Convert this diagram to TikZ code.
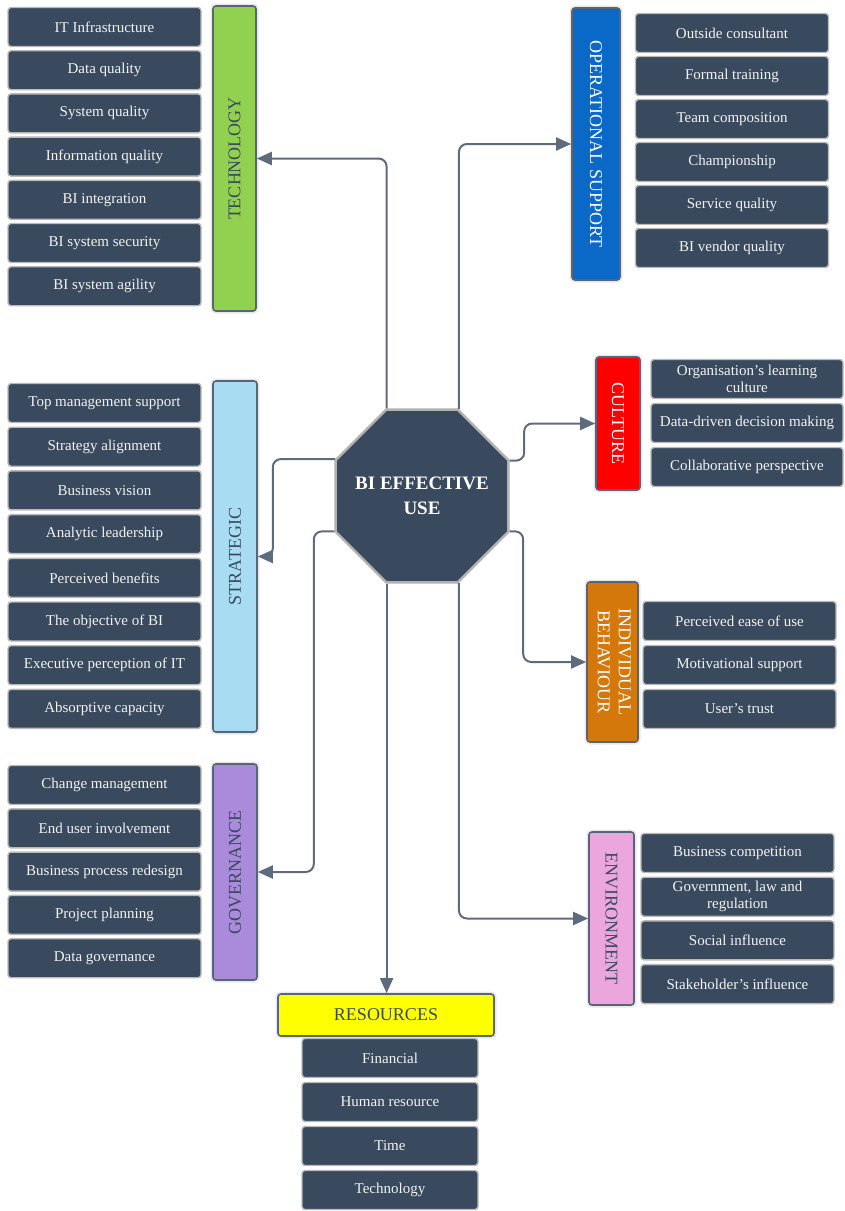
\documentclass[tikz,border=0pt]{standalone}
\usepackage{fontspec}
\setmainfont{Liberation Serif}
\usetikzlibrary{shapes.geometric,arrows.meta}
\definecolor{slatebox}{HTML}{3A4A5E}
\definecolor{linkgray}{HTML}{5E6B7C}
\definecolor{techgreen}{HTML}{92D050}
\definecolor{stratblue}{HTML}{A8DCF2}
\definecolor{govpurple}{HTML}{A98ADB}
\definecolor{operblue}{HTML}{0A68C6}
\definecolor{cultred}{HTML}{FF0000}
\definecolor{indivorange}{HTML}{D4780B}
\definecolor{envpink}{HTML}{ECA6DE}
\definecolor{resyellow}{HTML}{FFFF00}
\tikzset{
  item/.style={fill=slatebox, draw=gray!55, line width=1.4pt, rounded corners=3pt,
    minimum width=193pt, minimum height=39pt, inner sep=1pt, align=center,
    text=white!95!black, font=\fontsize{15}{17}\selectfont},
  bar/.style={draw=slatebox!85, line width=1.6pt, rounded corners=3pt, inner sep=0pt,
    text=slatebox, font=\fontsize{18}{21}\selectfont,
    preaction={draw=gray!18, line width=5pt}},
  link/.style={draw=linkgray, line width=2pt, rounded corners=8pt,
    -{Triangle[length=15pt,width=13pt]}},
}
\begin{document}
\begin{tikzpicture}[x=1pt, y=-1pt]
  \useasboundingbox (0,0) rectangle (844,1211);

  % centre
  \node[regular polygon, regular polygon sides=8, minimum size=187pt, inner sep=0pt,
    fill=slatebox, draw=gray!60, line width=2.5pt,
    label={[text=white, align=center, font=\fontsize{19}{25}\selectfont\bfseries]center:BI EFFECTIVE\\USE}] (oct) at (422,496) {};

  % factor bars
  \node[bar, fill=techgreen, minimum width=43pt, minimum height=305pt] (tech) at (234.5,158.5) {\rotatebox{90}{TECHNOLOGY}};
  \node[bar, fill=stratblue, minimum width=44pt, minimum height=351pt] (strat) at (235,556.5) {\rotatebox{90}{STRATEGIC}};
  \node[bar, fill=govpurple, minimum width=44pt, minimum height=216pt] (gov) at (235,872) {\rotatebox{90}{GOVERNANCE}};
  \node[bar, fill=operblue, text=white, minimum width=48pt, minimum height=272pt] (oper) at (596,144) {\rotatebox{-90}{OPERATIONAL SUPPORT}};
  \node[bar, fill=cultred, text=white, minimum width=44pt, minimum height=133pt] (cult) at (618,423.5) {\rotatebox{-90}{CULTURE}};
  \node[bar, fill=indivorange, text=white, minimum width=51pt, minimum height=160pt] (indiv) at (612.5,662) {\rotatebox{-90}{\begin{tabular}{@{}c@{}}INDIVIDUAL\\BEHAVIOUR\end{tabular}}};
  \node[bar, fill=envpink, minimum width=45pt, minimum height=173pt] (env) at (611.5,918.5) {\rotatebox{-90}{ENVIRONMENT}};
  \node[bar, fill=resyellow, minimum width=216pt, minimum height=42pt] (res) at (386,1015) {RESOURCES};

  % items
  \foreach \txt [count=\i from 0] in {IT Infrastructure, Data quality, System quality,
      Information quality, BI integration, BI system security, BI system agility}
    \node[item] (tech\i) at (104.5,{27+43.2*\i}) {\txt};
  \foreach \txt [count=\i from 0] in {Top management support, Strategy alignment,
      Business vision, Analytic leadership, Perceived benefits, The objective of BI,
      Executive perception of IT, Absorptive capacity}
    \node[item] (strat\i) at (104.5,{403+43.7*\i}) {\txt};
  \foreach \txt [count=\i from 0] in {Change management, End user involvement,
      Business process redesign, Project planning, Data governance}
    \node[item] (gov\i) at (104.5,{785+43.3*\i}) {\txt};
  \foreach \txt [count=\i from 0] in {Outside consultant, Formal training,
      Team composition, Championship, Service quality, BI vendor quality}
    \node[item] (oper\i) at (732,{33+43*\i}) {\txt};
  \foreach \txt [count=\i from 0] in {Organisation’s learning\\culture,
      Data-driven decision making, Collaborative perspective}
    \node[item, minimum width=192pt] (cult\i) at (747,{379+44*\i}) {\txt};
  \foreach \txt [count=\i from 0] in {Perceived ease of use, Motivational support, User’s trust}
    \node[item] (indiv\i) at (739.5,{621+44*\i}) {\txt};
  \foreach \txt [count=\i from 0] in {Business competition, {Government, law and\\regulation},
      Social influence, Stakeholder’s influence}
    \node[item] (env\i) at (737.5,{853+43.7*\i}) {\txt};
  \foreach \txt [count=\i from 0] in {Financial, Human resource, Time, Technology}
    \node[item, minimum width=176pt] (res\i) at (390,{1058+44*\i}) {\txt};

  % links
  \draw[link] (oct.112.5) |- (tech.east);
  \draw[link] (oct.67.5) |- (oper.west);
  \draw[link] (oct.157.5) -| ([xshift=15pt]strat.east) -- (strat.east);
  \draw[link] (oct.202.5) -| ([xshift=56pt]gov.east) -- (gov.east);
  \draw[link] (oct.22.5) -| ([xshift=-71pt]cult.west) -- (cult.west);
  \draw[link] (oct.-22.5) -| ([xshift=-63pt]indiv.west) -- (indiv.west);
  \draw[link] (oct.-67.5) |- (env.west);
  \draw[link] (oct.-112.5) -- (oct.-112.5 |- res.north);
\end{tikzpicture}
\end{document}
